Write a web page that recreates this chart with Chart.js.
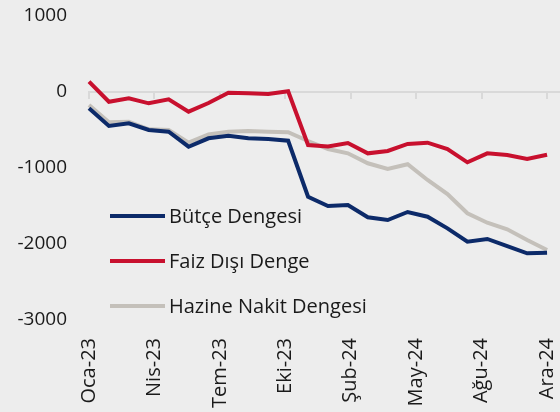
<!DOCTYPE html>
<html>

<head>
  <title>Bütçe Dengesi</title>
  <script src="https://cdn.jsdelivr.net/npm/chart.js"></script>
  <style>
    html, body { margin: 0; padding: 0; background: #ededed; }
    canvas { display: block; }
  </style>
</head>

<body>
  <canvas id="balance-chart" width="560" height="412"></canvas>

  <script>
    // veriler
    const months = ['Oca-23', 'Şub-23', 'Mar-23', 'Nis-23', 'May-23', 'Haz-23', 'Tem-23', 'Ağu-23', 'Eyl-23', 'Eki-23', 'Kas-23', 'Ara-23',
      'Oca-24', 'Şub-24', 'Mar-24', 'Nis-24', 'May-24', 'Haz-24', 'Tem-24', 'Ağu-24', 'Eyl-24', 'Eki-24', 'Kas-24', 'Ara-24'];
    const butceDengesi = [-215, -447, -412, -500, -522, -720, -609, -575, -609, -619, -641, -1378,
      -1500, -1487, -1649, -1684, -1579, -1641, -1794, -1970, -1934, -2027, -2123, -2115];
    const faizDisiDenge = [136, -128, -83, -149, -96, -259, -145, -9, -17, -26, 9, -698,
      -717, -671, -807, -776, -684, -667, -750, -925, -807, -829, -882, -825];
    const hazineNakitDengesi = [-171, -399, -391, -491, -500, -667, -557, -522, -513, -522, -530, -645,
      -750, -807, -938, -1013, -950, -1158, -1342, -1596, -1720, -1807, -1948, -2079];
    const yTicks = [1000, 0, -1000, -2000, -3000];
    const labelCount = 8;

    const toPoints = (arr) => arr.map((v, i) => ({ x: i, y: v }));
    const lastIdx = months.length - 1;
    const xMax = lastIdx + 0.65;

    // x etiketleri eşit aralıklı
    function spreadTicks(scale) {
      const t = [];
      for (let k = 0; k < labelCount; k++) {
        t.push({ value: k * lastIdx / (labelCount - 1) });
      }
      scale.ticks = t;
    }

    // arka plan
    const bgPlugin = {
      id: 'bg',
      beforeDraw(chart) {
        const c = chart.ctx;
        c.save();
        c.fillStyle = '#ededed';
        c.fillRect(0, 0, chart.width, chart.height);
        c.restore();
      }
    };

    // grafik içi lejant
    const legendPlugin = {
      id: 'innerLegend',
      afterDatasetsDraw(chart) {
        const c = chart.ctx;
        const rows = [216, 261, 306];
        c.save();
        c.font = '20px "Open Sans", sans-serif';
        c.textBaseline = 'middle';
        chart.data.datasets.forEach((ds, i) => {
          const y = rows[i];
          c.strokeStyle = ds.borderColor;
          c.lineWidth = 4;
          c.beginPath();
          c.moveTo(110, y);
          c.lineTo(165, y);
          c.stroke();
          c.fillStyle = '#1a1a1a';
          c.fillText(ds.label, 169, y + 1);
        });
        c.restore();
      }
    };

    const ctx = document.getElementById('balance-chart').getContext('2d');

    const balanceChart = new Chart(ctx, {
      type: 'line',
      data: {
        datasets: [{
          label: 'Bütçe Dengesi',
          data: toPoints(butceDengesi),
          borderColor: '#0c2a69',
          borderWidth: 4,
          pointRadius: 0,
          tension: 0
        }, {
          label: 'Faiz Dışı Denge',
          data: toPoints(faizDisiDenge),
          borderColor: '#c8102e',
          borderWidth: 4,
          pointRadius: 0,
          tension: 0
        }, {
          label: 'Hazine Nakit Dengesi',
          data: toPoints(hazineNakitDengesi),
          borderColor: '#c4c0ba',
          borderWidth: 4,
          pointRadius: 0,
          tension: 0
        }]
      },
      options: {
        responsive: false,
        animation: false,
        clip: false,
        layout: { padding: { top: 16, right: 0, left: 0, bottom: 0 } },
        plugins: {
          legend: { display: false },
          tooltip: { enabled: false }
        },
        scales: {
          x: {
            type: 'linear',
            position: 'bottom',
            min: 0,
            max: xMax,
            afterBuildTicks: spreadTicks,
            afterFit(scale) {
              scale.height = 92;
              scale.paddingLeft = 0;
              scale.paddingRight = 0;
            },
            grid: { display: false },
            border: { display: false },
            ticks: {
              minRotation: 90,
              maxRotation: 90,
              padding: 10,
              color: '#1a1a1a',
              font: { family: '"Open Sans", sans-serif', size: 20 },
              callback: (v) => months[Math.floor(v + 1e-6)]
            }
          },
          x2: {
            type: 'linear',
            axis: 'x',
            position: { y: 0 },
            min: 0,
            max: xMax,
            afterBuildTicks: spreadTicks,
            grid: { drawOnChartArea: false, drawTicks: true, tickLength: 6, color: '#d9d9d9', lineWidth: 2 },
            border: { color: '#d9d9d9', width: 2 },
            ticks: { display: false }
          },
          y: {
            min: -3000,
            max: 1000,
            afterBuildTicks(scale) { scale.ticks = yTicks.map(v => ({ value: v })); },
            afterFit(scale) {
              scale.width = 89;
              scale.paddingTop = 0;
              scale.paddingBottom = 0;
            },
            grid: { display: false },
            border: { display: false },
            ticks: {
              padding: 14,
              color: '#1a1a1a',
              font: { family: '"Open Sans", sans-serif', size: 19 },
              callback: (v) => String(v)
            }
          }
        }
      },
      plugins: [bgPlugin, legendPlugin]
    });
  </script>
</body>

</html>
